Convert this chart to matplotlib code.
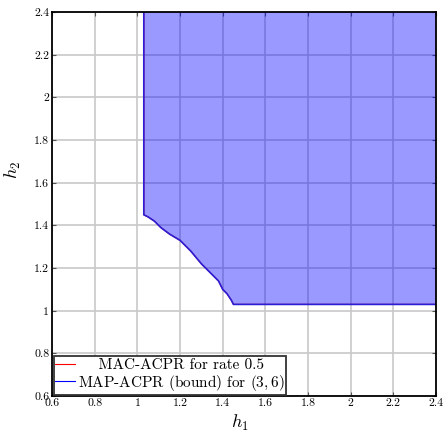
import matplotlib
matplotlib.use("Agg")
import matplotlib.pyplot as plt
from matplotlib.lines import Line2D
import numpy as np

plt.rcParams['font.family'] = ['cmr10', 'DejaVu Serif']
plt.rcParams['mathtext.fontset'] = 'cm'
plt.rcParams['axes.formatter.use_mathtext'] = True

# boundary of the achievable region (h1, h2)
h1_bound = [1.03, 1.03, 1.05, 1.08, 1.11, 1.15, 1.20, 1.25, 1.30, 1.34, 1.38, 1.40, 1.42, 1.44, 1.45, 2.4]
h2_bound = [2.4, 1.45, 1.44, 1.42, 1.39, 1.36, 1.33, 1.28, 1.22, 1.18, 1.14, 1.10, 1.08, 1.05, 1.03, 1.03]

labels = ['    MAC-ACPR for rate 0.5', 'MAP-ACPR (bound) for $(3,6)$']
ticks = [0.6, 0.8, 1, 1.2, 1.4, 1.6, 1.8, 2, 2.2, 2.4]

fig = plt.figure(figsize=(4.45, 4.32), dpi=100)
ax = fig.add_axes([0.117, 0.083, 0.863, 0.889])

xs = np.array(h1_bound)
ys = np.array(h2_bound)
ax.fill(np.append(xs, 2.4), np.append(ys, 2.4), color='blue', alpha=0.4, lw=0, zorder=2)
ax.plot(xs, ys, color='red', lw=0.8, zorder=3)
ax.plot(xs, ys, color='#2a1fd6', lw=1.2, zorder=4)

ax.set_xlim(0.6, 2.4)
ax.set_ylim(0.6, 2.4)
ax.set_xticks(ticks)
ax.set_yticks(ticks)
ax.set_xticklabels([f'{t:g}' for t in ticks])
ax.set_yticklabels([f'{t:g}' for t in ticks])
ax.grid(True, color='#c8c8c8', lw=1.2, zorder=1)
ax.set_axisbelow(True)
ax.tick_params(direction='in', top=True, right=True, labelsize=8.5, length=3, pad=2,
               color='#555555')
for s in ax.spines.values():
    s.set_linewidth(1.3)
    s.set_zorder(5)

ax.set_xlabel('$h_1$', fontsize=13)
ax.set_ylabel('$h_2$', fontsize=13)
ax.xaxis.set_label_coords(0.49, -0.044)
ax.yaxis.set_label_coords(-0.075, 0.589)

handles = [Line2D([], [], color='red', lw=0.8), Line2D([], [], color='blue', lw=0.8)]
leg = ax.legend(handles, labels, loc='lower left', fontsize=11, frameon=True, fancybox=False,
                edgecolor='#333333', framealpha=1, handlelength=1.3, handletextpad=0.15,
                borderpad=0.12, labelspacing=0.05, borderaxespad=0.1)
leg.get_frame().set_linewidth(1.3)
leg.set_zorder(6)

fig.savefig('out.png', dpi=100)
